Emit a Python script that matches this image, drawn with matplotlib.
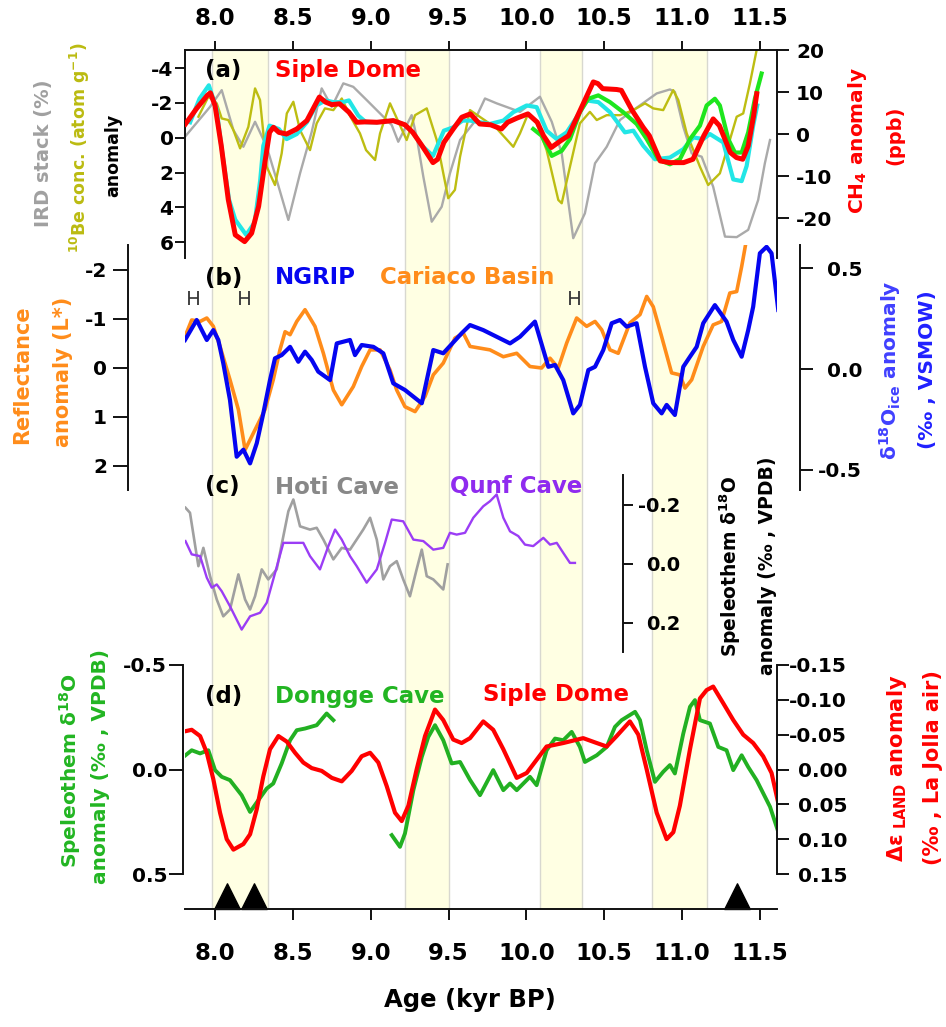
import numpy as np
import matplotlib
matplotlib.use("Agg")
import matplotlib.pyplot as plt
from matplotlib.path import Path
from matplotlib.markers import MarkerStyle

plt.rcParams["font.family"] = ["DejaVu Sans"]
plt.rcParams["font.weight"] = "bold"
plt.rcParams["axes.unicode_minus"] = False
plt.rcParams["mathtext.fontset"] = "dejavusans"
plt.rcParams["mathtext.default"] = "bf"

# ------------------------------------------------------------------ data
x_ticks = [8.0, 8.5, 9.0, 9.5, 10.0, 10.5, 11.0, 11.5]
band_start = [7.98, 9.22, 10.09, 10.81]
band_end = [8.34, 9.50, 10.36, 11.16]
event_ages = [8.08, 8.25, 11.35]
h_ages = [7.86, 8.19, 10.31]
h_halfwidth = [0.029, 0.029, 0.029]

a_left_ticks = [-4, -2, 0, 2, 4, 6]
a_right_ticks = [-20, -10, 0, 10, 20]
b_left_ticks = [-2, -1, 0, 1, 2]
b_right_ticks = [-0.5, 0.0, 0.5]
c_ticks = [-0.2, 0.0, 0.2]
d_left_ticks = [-0.5, 0.0, 0.5]
d_right_ticks = [-0.15, -0.10, -0.05, 0.00, 0.05, 0.10, 0.15]

# (a) Siple Dome CH4 anomaly (ppb)
siple_ch4_age = [7.81, 7.88, 7.95, 7.97, 8.00, 8.04, 8.085, 8.13, 8.19, 8.235, 8.28, 8.32, 8.35, 8.375,
                 8.41, 8.46, 8.525, 8.59, 8.63, 8.67, 8.71, 8.75, 8.80, 8.86, 8.91, 8.97, 9.04, 9.145,
                 9.22, 9.27, 9.33, 9.40, 9.43, 9.47, 9.53, 9.585, 9.64, 9.67, 9.70, 9.77, 9.84, 9.88,
                 9.94, 10.01, 10.07, 10.11, 10.16, 10.22, 10.27, 10.32, 10.38, 10.43, 10.46, 10.49,
                 10.58, 10.61, 10.68, 10.75, 10.79, 10.86, 10.92, 11.01, 11.07, 11.14, 11.20, 11.24,
                 11.31, 11.35, 11.39, 11.425, 11.46, 11.48]
siple_ch4 = [2.4, 6.0, 9.2, 9.8, 6.8, -2.8, -15.6, -24.0, -25.6, -23.6, -17.2, -6.8, 0.4, 1.6,
             0.4, 0.0, 1.2, 3.2, 6.0, 8.8, 7.6, 7.0, 7.2, 5.2, 2.8, 2.9, 2.8, 3.2,
             2.2, 0.4, -2.8, -6.8, -6.0, -2.0, 1.2, 4.0, 4.8, 3.6, 2.4, 2.2, 1.2, 2.8,
             3.8, 4.8, 2.8, -0.4, -3.2, -1.6, -0.4, 3.6, 8.4, 12.4, 12.0, 10.8,
             10.6, 10.4, 5.6, 1.6, -0.4, -6.4, -6.8, -6.8, -6.0, -0.4, 3.6, 2.0,
             -4.4, -5.6, -6.0, -2.8, 4.4, 9.6]

# (a) second CH4 record (cyan)
cyan_ch4_age = [7.84, 7.90, 7.96, 8.01, 8.04, 8.09, 8.13, 8.20, 8.255, 8.29, 8.31, 8.35, 8.41, 8.46,
                8.525, 8.59, 8.65, 8.71, 8.76, 8.82, 8.86, 8.92, 8.97, 9.04, 9.145, 9.22, 9.27,
                9.33, 9.40, 9.47, 9.53, 9.59, 9.638, 9.766, 9.852, 9.916, 10.002, 10.066, 10.13,
                10.195, 10.259, 10.323, 10.387, 10.462, 10.537, 10.633, 10.687, 10.751, 10.826,
                10.922, 11.008, 11.072, 11.136, 11.179, 11.265, 11.329, 11.383, 11.415, 11.457, 11.483]
cyan_ch4 = [2.8, 8.4, 11.6, 6.0, -2.8, -15.6, -20.4, -24.0, -21.0, -11.0, -2.8, 2.0, 1.2, -1.2,
            0.0, 2.8, 6.8, 8.0, 7.6, 7.6, 8.0, 4.4, 2.8, 2.8, 3.2, 2.2, 0.4,
            -2.8, -5.2, 0.8, 1.6, 3.2, 3.2, 2.4, 3.2, 5.2, 6.8, 6.4, 0.8,
            -1.2, 0.4, 4.0, 8.0, 7.6, 5.2, 0.4, 0.8, -2.8, -6.0,
            -5.6, -3.6, -0.8, -1.2, 0.0, -2.0, -10.8, -11.2, -7.6, 2.0, 6.8]

# (a) third CH4 record (green)
green_ch4_age = [10.044, 10.098, 10.163, 10.227, 10.28, 10.344, 10.398, 10.462, 10.537, 10.622,
                 10.708, 10.773, 10.847, 10.922, 10.986, 11.051, 11.115, 11.158, 11.211, 11.243,
                 11.297, 11.34, 11.383, 11.425, 11.468, 11.511]
green_ch4 = [1.2, -0.4, -5.2, -4.0, -1.2, 5.2, 8.4, 9.2, 7.6, 5.2,
             2.4, -1.2, -6.0, -7.2, -6.0, -1.2, 2.0, 6.8, 8.4, 6.8,
             -1.2, -4.4, -4.4, 0.4, 8.4, 14.4]

# (a) IRD stack anomaly (%)
ird_age = [7.807, 7.968, 8.043, 8.118, 8.182, 8.257, 8.332, 8.396, 8.471, 8.546, 8.621, 8.685,
           8.75, 8.824, 8.888, 8.974, 9.06, 9.135, 9.177, 9.263, 9.295, 9.338, 9.392, 9.456,
           9.509, 9.574, 9.659, 9.734, 9.809, 9.959, 10.087, 10.163, 10.227, 10.301, 10.376,
           10.441, 10.516, 10.601, 10.687, 10.762, 10.837, 10.922, 10.954, 11.008, 11.062,
           11.126, 11.2, 11.276, 11.351, 11.425, 11.489, 11.532, 11.565]
ird = [-0.06, -1.78, -2.74, -0.44, 0.52, -0.92, 0.52, 2.43, 4.73, 2.05, -0.34, -2.84,
       -1.78, -3.13, -2.93, -2.17, -1.40, -0.73, 0.23, -1.3, -0.06, 2.24, 4.83, 3.97,
       2.05, 0.13, -0.83, -2.26, -1.98, -1.49, -2.36, -0.92, 0.90, 5.78, 4.35,
       1.47, 0.52, -1.02, -1.59, -2.07, -2.55, -2.78, -2.64, -0.63, 0.9,
       1.09, 2.82, 5.69, 5.72, 5.30, 3.58, 1.47, 0.13]

# (a) 10Be concentration anomaly
be_age = [7.893, 7.957, 8.011, 8.043, 8.085, 8.118, 8.161, 8.214, 8.257, 8.289, 8.332, 8.385,
          8.428, 8.461, 8.503, 8.546, 8.61, 8.653, 8.706, 8.76, 8.814, 8.87, 8.931, 8.97,
          9.028, 9.06, 9.124, 9.231, 9.285, 9.36, 9.424, 9.498, 9.541, 9.574, 9.638, 9.809,
          9.916, 9.959, 10.012, 10.066, 10.13, 10.205, 10.227, 10.28, 10.344, 10.408, 10.452,
          10.516, 10.601, 10.687, 10.762, 10.815, 10.879, 10.943, 10.976, 11.03, 11.115,
          11.168, 11.243, 11.307, 11.351, 11.393, 11.436, 11.479, 11.513]
be = [-1.21, -2.36, -1.98, -1.11, -1.02, -0.44, 0.61, -0.63, -2.84, -2.17, 1.67, 2.72,
      0.90, -1.40, -2.07, -0.44, 0.71, -0.83, -1.69, -1.59, -2.26, -1.21, -0.25, 0.71,
      1.28, -0.25, -1.98, 0.13, -1.30, -1.69, 0.13, 3.48, 3.0, 1.09, -1.59, -0.54,
      0.52, -0.25, -1.40, -0.83, 0.71, 3.58, 3.77, 1.67, -0.83, -1.49, -1.02,
      -1.30, -1.30, -1.59, -1.98, -1.69, -1.59, -2.74, -2.17, -0.25, 1.67,
      2.72, 2.05, 0.13, -1.21, -1.40, -3.13, -5.04, -6.5]

# (b) Cariaco Basin reflectance anomaly (L*)
cariaco_age = [7.807, 7.85, 7.904, 7.947, 7.989, 8.032, 8.096, 8.15, 8.193, 8.268, 8.321, 8.374,
               8.417, 8.45, 8.482, 8.525, 8.578, 8.642, 8.696, 8.76, 8.814, 8.888, 8.942, 8.996,
               9.06, 9.124, 9.167, 9.22, 9.285, 9.349, 9.402, 9.466, 9.541, 9.595, 9.638, 9.766,
               9.852, 9.938, 10.023, 10.098, 10.152, 10.205, 10.259, 10.323, 10.387, 10.441,
               10.484, 10.537, 10.59, 10.665, 10.73, 10.773, 10.815, 10.869, 10.933, 10.986,
               11.019, 11.062, 11.136, 11.2, 11.254, 11.307, 11.351, 11.383, 11.41, 11.45]
cariaco = [-0.63, -0.97, -0.94, -1.01, -0.84, -0.43, 0.25, 0.86, 1.68, 1.20, 0.86, 0.25,
           -0.36, -0.73, -0.67, -0.94, -1.18, -0.84, -0.29, 0.46, 0.76, 0.39, -0.02, -0.36,
           -0.36, 0.05, 0.46, 0.80, 0.90, 0.59, 0.15, -0.09, -0.60, -0.70, -0.43, -0.36,
           -0.22, -0.29, -0.02, 0.01, -0.19, 0.01, -0.50, -1.01, -0.84, -0.94,
           -0.77, -0.36, -0.29, -0.91, -1.08, -1.45, -1.24, -0.63, 0.11, 0.15,
           0.42, 0.25, -0.43, -0.87, -0.94, -1.52, -1.55, -2.06, -2.54, -3.2]

# (b) NGRIP d18O ice anomaly (permil VSMOW)
ngrip_age = [7.807, 7.882, 7.947, 7.989, 8.021, 8.053, 8.096, 8.139, 8.182, 8.225, 8.268, 8.31,
             8.353, 8.385, 8.428, 8.482, 8.535, 8.578, 8.621, 8.663, 8.739, 8.782, 8.867, 8.899,
             8.942, 9.017, 9.081, 9.145, 9.22, 9.328, 9.402, 9.466, 9.584, 9.638, 9.723, 9.895,
             9.959, 10.055, 10.141, 10.184, 10.237, 10.301, 10.344, 10.398, 10.441, 10.494,
             10.548, 10.601, 10.644, 10.708, 10.762, 10.815, 10.869, 10.901, 10.954, 11.008,
             11.051, 11.094, 11.136, 11.211, 11.286, 11.329, 11.383, 11.425, 11.457, 11.5,
             11.543, 11.575, 11.618]
ngrip = [0.144, 0.243, 0.144, 0.193, 0.144, 0.028, -0.154, -0.435, -0.40, -0.468, -0.368, -0.22,
         -0.055, 0.053, 0.069, 0.11, 0.036, 0.086, 0.045, -0.013, -0.055, 0.127, 0.144, 0.069,
         0.119, 0.11, 0.078, -0.071, -0.104, -0.17, 0.094, 0.078, 0.177, 0.218, 0.193, 0.127,
         0.16, 0.235, 0.011, 0.02, -0.055, -0.22, -0.178, -0.005, 0.011, 0.094,
         0.227, 0.243, 0.21, 0.227, 0.011, -0.17, -0.22, -0.178, -0.228, 0.011,
         0.061, 0.11, 0.227, 0.317, 0.235, 0.144, 0.061, 0.193, 0.309, 0.574,
         0.606, 0.574, 0.293]

# (c) Hoti Cave speleothem d18O anomaly
hoti_age = [7.81, 7.839, 7.893, 7.925, 7.968, 8.011, 8.053, 8.096, 8.15, 8.193, 8.225, 8.257,
            8.3, 8.342, 8.396, 8.439, 8.471, 8.503, 8.546, 8.61, 8.653, 8.696, 8.76, 8.814,
            8.867, 8.952, 8.996, 9.039, 9.081, 9.124, 9.167, 9.209, 9.252, 9.295, 9.328, 9.36,
            9.402, 9.445, 9.466, 9.494]
hoti = [-0.189, -0.172, 0.009, -0.053, 0.043, 0.122, 0.179, 0.156, 0.037, 0.122, 0.156, 0.111,
        0.02, 0.054, 0.02, -0.093, -0.177, -0.217, -0.126, -0.115, -0.121, -0.081, -0.014, -0.053,
        -0.047, -0.115, -0.155, -0.081, 0.054, 0.009, -0.008, 0.054, 0.111, 0.02, -0.047, 0.043,
        0.054, 0.077, 0.088, 0.003]

# (c) Qunf Cave speleothem d18O anomaly
qunf_age = [7.81, 7.85, 7.904, 7.947, 7.979, 8.011, 8.043, 8.096, 8.171, 8.225, 8.289, 8.332,
            8.374, 8.439, 8.503, 8.567, 8.61, 8.674, 8.728, 8.771, 8.814, 8.867, 8.91, 8.974,
            9.039, 9.092, 9.135, 9.209, 9.274, 9.338, 9.402, 9.466, 9.509, 9.552, 9.606, 9.659,
            9.723, 9.766, 9.809, 9.852, 9.895, 9.948, 9.991, 10.044, 10.109, 10.152, 10.195,
            10.237, 10.28, 10.312]
qunf = [-0.076, -0.031, -0.025, 0.048, 0.082, 0.071, 0.094, 0.145, 0.224, 0.179, 0.167, 0.133,
        0.054, -0.07, -0.07, -0.07, -0.025, 0.02, -0.059, -0.115, -0.081, -0.025, 0.009, 0.065,
        0.02, -0.07, -0.149, -0.143, -0.081, -0.076, -0.047, -0.053, -0.104, -0.098, -0.104, -0.155,
        -0.194, -0.211, -0.234, -0.155, -0.109, -0.093, -0.064, -0.059, -0.087, -0.064, -0.07,
        -0.036, -0.002, -0.002]

# (d) Dongge Cave speleothem d18O anomaly (two segments, gap = nan)
dongge_age = [7.81, 7.85, 7.904, 7.957, 8.0, 8.043, 8.096, 8.171, 8.225, 8.278, 8.332, 8.374,
              8.428, 8.482, 8.525, 8.578, 8.653, 8.717, 8.76, 8.95,
              9.135, 9.188, 9.22, 9.274, 9.328, 9.37, 9.413, 9.466, 9.52, 9.574, 9.638, 9.702,
              9.787, 9.852, 9.895, 9.938, 10.023, 10.066, 10.13, 10.184, 10.237, 10.291, 10.344,
              10.376, 10.452, 10.516, 10.569, 10.612, 10.698, 10.73, 10.773, 10.826, 10.879,
              10.922, 10.954, 11.008, 11.051, 11.083, 11.115, 11.179, 11.233, 11.286, 11.329,
              11.383, 11.425, 11.479, 11.565, 11.618]
dongge = [-0.068, -0.092, -0.077, -0.092, 0.003, 0.035, 0.051, 0.123, 0.203, 0.147, 0.091, 0.067,
          -0.029, -0.14, -0.188, -0.196, -0.212, -0.268, -0.236, np.nan,
          0.314, 0.37, 0.306, 0.099, -0.06, -0.156, -0.212, -0.14, -0.029, -0.036, 0.05, 0.123,
          0.003, 0.099, 0.067, 0.099, 0.035, 0.075, -0.092, -0.148, -0.14, -0.18, -0.108,
          -0.036, -0.068, -0.108, -0.204, -0.236, -0.276, -0.236, -0.092, 0.059, 0.011,
          -0.021, 0.019, -0.172, -0.3, -0.332, -0.236, -0.22, -0.108, -0.092, 0.003,
          -0.068, -0.012, 0.051, 0.178, 0.298]

# (d) Siple Dome delta-epsilon LAND anomaly
siple_de_age = [7.81, 7.85, 7.904, 7.947, 7.989, 8.032, 8.075, 8.118, 8.182, 8.225, 8.268, 8.31,
                8.353, 8.407, 8.461, 8.514, 8.567, 8.621, 8.685, 8.75, 8.814, 8.878, 8.942, 8.996,
                9.049, 9.103, 9.156, 9.199, 9.242, 9.295, 9.349, 9.413, 9.466, 9.53, 9.584, 9.638,
                9.723, 9.787, 9.852, 9.938, 10.002, 10.066, 10.13, 10.237, 10.365, 10.452, 10.516,
                10.58, 10.665, 10.719, 10.773, 10.837, 10.901, 10.944, 10.986, 11.051, 11.115,
                11.158, 11.2, 11.265, 11.329, 11.393, 11.457, 11.521, 11.575, 11.618]
siple_de = [-0.055, -0.057, -0.048, -0.024, 0.014, 0.062, 0.1, 0.115, 0.107, 0.093, 0.057, 0.01,
            -0.029, -0.048, -0.04, -0.024, -0.01, -0.002, 0.002, 0.012, 0.017, 0.002, -0.019, -0.024,
            -0.01, 0.024, 0.062, 0.074, 0.052, 0.0, -0.048, -0.086, -0.071, -0.043, -0.038, -0.045,
            -0.069, -0.057, -0.029, 0.012, 0.005, -0.014, -0.033, -0.038, -0.045, -0.038, -0.033,
            -0.048, -0.069, -0.05, 0.0, 0.062, 0.1, 0.09, 0.052, -0.029, -0.102,
            -0.114, -0.119, -0.095, -0.071, -0.05, -0.038, -0.019, 0.005, 0.048]

# ------------------------------------------------------------------ layout
W, H = 946, 1027
PT = 72.0 / 100.0
fig = plt.figure(figsize=(W / 100, H / 100), dpi=100)
L, R = 185, 777
XL = (7.807, 11.61)
SPW = 1.4
INK = "#111111"
YFS = 14.5


def rect(x0, y0, x1, y1):
    return [x0 / W, 1 - y1 / H, (x1 - x0) / W, (y1 - y0) / H]


def ftext(x, y, s, **kw):
    fig.text(x / W, 1 - y / H, s, **kw)


def bare(ax):
    ax.set_xlim(*XL)
    ax.patch.set_visible(False)
    for s in ax.spines.values():
        s.set_visible(False)
    ax.tick_params(axis="both", which="both", bottom=False, top=False, left=False, right=False,
                   labelbottom=False, labeltop=False, labelleft=False, labelright=False)


def yaxis_setup(ax, side, ticks, fmt, lim, length_px, pad_px, ha=None, fs=YFS, pos=None):
    ax.set_ylim(*lim)
    sp = ax.spines[side]
    sp.set_visible(True)
    sp.set_linewidth(SPW)
    sp.set_color(INK)
    if pos is not None:
        sp.set_position(pos)
    if side == "left":
        ax.tick_params(axis="y", left=True, labelleft=True)
    else:
        ax.tick_params(axis="y", right=True, labelright=True)
    ax.set_yticks(ticks)
    ax.set_yticklabels([fmt % t for t in ticks], fontsize=fs, fontweight="bold")
    ax.tick_params(axis="y", direction="out", length=length_px * PT, width=SPW,
                   pad=pad_px * PT, color=INK)
    if ha:
        for lab in ax.get_yticklabels():
            lab.set_horizontalalignment(ha)


# background bands
bg = fig.add_axes(rect(L, 50, R, 909))
bare(bg)
bg.set_ylim(0, 1)
for s, e in zip(band_start, band_end):
    bg.axvspan(s, e, facecolor="#FFFFE3", edgecolor="#D8D8D0", lw=1.0)

# ---------------- panel (a)
axA = fig.add_axes(rect(L, 50, R, 258))
bare(axA)
yaxis_setup(axA, "left", a_left_ticks, "%d", (6.92, -5.05), 10, 1.5)
axA.spines["top"].set_visible(True)
axA.spines["top"].set_linewidth(SPW)
axA.spines["top"].set_color(INK)
axA.set_xticks(x_ticks)
axA.set_xticklabels(["%.1f" % t for t in x_ticks], fontsize=16.5, fontweight="bold")
axA.tick_params(axis="x", top=True, labeltop=True, direction="out", length=9 * PT,
                width=SPW, pad=11 * PT, color=INK)
axA.plot(ird_age, ird, color="#AAAAAA", lw=1.7)
axA.plot(be_age, be, color="#BDBD12", lw=1.7)

axA2 = axA.twinx()
bare(axA2)
yaxis_setup(axA2, "right", a_right_ticks, "%d", (-29.5, 20), 12, 7)
axA2.plot(cyan_ch4_age, cyan_ch4, color="#22E6E6", lw=3.0)
axA2.plot(green_ch4_age, green_ch4, color="#1EE61E", lw=3.0)
axA2.plot(siple_ch4_age, siple_ch4, color="#FF0000", lw=3.6)

# ---------------- panel (b)
axB = fig.add_axes(rect(L, 245, R, 490))
bare(axB)
yaxis_setup(axB, "left", b_left_ticks, "%d", (2.5, -2.5), 15, 6, pos=("outward", 57 * PT))
axB.plot(cariaco_age, cariaco, color="#FF8C1A", lw=2.6)
axB.errorbar(h_ages, [-1.42] * len(h_ages), xerr=h_halfwidth, fmt="none", ecolor="#333333",
             elinewidth=1.2, capsize=5.0, capthick=1.3)

axB2 = axB.twinx()
bare(axB2)
yaxis_setup(axB2, "right", b_right_ticks, "%.1f", (-0.6, 0.615), 13, 49, ha="right",
            pos=("outward", 23 * PT))
axB2.plot(ngrip_age, ngrip, color="#0505F0", lw=3.0)

# ---------------- panel (c)
axC = fig.add_axes(rect(L, 475, R, 652))
bare(axC)
yaxis_setup(axC, "right", c_ticks, "%.1f", (0.3, -0.3), 10, 47, ha="right", fs=14,
            pos=("axes", (623 - L) / (R - L)))
axC.plot(hoti_age, hoti, color="#A0A0A0", lw=1.9)
axC.plot(qunf_age, qunf, color="#9B3DF5", lw=1.7)

# ---------------- panel (d)
axD = fig.add_axes(rect(L, 665, R, 874))
bare(axD)
yaxis_setup(axD, "left", d_left_ticks, "%.1f", (0.5, -0.5), 14, 2, pos=("outward", 2 * PT))
axD.plot(dongge_age, dongge, color="#22B022", lw=2.8)

axD2 = axD.twinx()
bare(axD2)
yaxis_setup(axD2, "right", d_right_ticks, "%.2f", (0.15, -0.15), 12, 58, ha="right")
axD2.plot(siple_de_age, siple_de, color="#FF0000", lw=3.0)

# ---------------- bottom age axis with event triangles
axX = fig.add_axes(rect(L, 860, R, 909))
bare(axX)
axX.set_ylim(0, 1)
axX.spines["bottom"].set_visible(True)
axX.spines["bottom"].set_linewidth(SPW)
axX.spines["bottom"].set_color(INK)
axX.set_xticks(x_ticks)
axX.set_xticklabels(["%.1f" % t for t in x_ticks], fontsize=16.5, fontweight="bold")
axX.tick_params(axis="x", bottom=True, labelbottom=True, direction="out", length=11 * PT,
                width=SPW, pad=22 * PT, color=INK)
tri = MarkerStyle(Path([(-0.5, 0), (0.5, 0), (0, 1), (-0.5, 0)], [1, 2, 2, 79]))
axX.plot(event_ages, np.zeros(len(event_ages)), linestyle="none", marker=tri, markersize=37,
         color="black", clip_on=False)

# ---------------- texts
PFS = 16.5
ftext(205, 71, "(a)", fontsize=PFS, color="black", va="center", ha="left")
ftext(275, 70, "Siple Dome", fontsize=PFS, color="#FF0000", va="center", ha="left")
ftext(205, 278, "(b)", fontsize=PFS, color="black", va="center", ha="left")
ftext(275, 278, "NGRIP", fontsize=PFS, color="#0505F0", va="center", ha="left")
ftext(380, 278, "Cariaco Basin", fontsize=PFS, color="#FF8C1A", va="center", ha="left")
ftext(205, 487, "(c)", fontsize=PFS, color="black", va="center", ha="left")
ftext(275, 487, "Hoti Cave", fontsize=PFS, color="#888888", va="center", ha="left")
ftext(450, 487, "Qunf Cave", fontsize=PFS, color="#8F2BEF", va="center", ha="left")
ftext(205, 697, "(d)", fontsize=PFS, color="black", va="center", ha="left")
ftext(275, 697, "Dongge Cave", fontsize=PFS, color="#22B522", va="center", ha="left")
ftext(483, 695, "Siple Dome", fontsize=PFS, color="#FF0000", va="center", ha="left")

rot = dict(rotation=90, ha="center", va="center")
ftext(43, 153, "IRD stack (%)", fontsize=14, color="#A0A0A0", **rot)
ftext(80, 148, r"$^{10}$Be conc. (atom g$^{-1}$)", fontsize=12.5, color="#BBBB11", **rot)
ftext(113, 155, "anomaly", fontsize=12.5, color="black", **rot)
ftext(857, 140, r"CH$_4$ anomaly", fontsize=14.5, color="#FF0000", **rot)
ftext(895, 135, "(ppb)", fontsize=14, color="#FF0000", **rot)
ftext(22, 375, "Reflectance", fontsize=15, color="#FF8C1A", **rot)
ftext(63, 372, "anomaly (L*)", fontsize=15, color="#FF8C1A", **rot)
ftext(890, 370, r"$\mathrm{\delta}^{18}$O$_{ice}$ anomaly", fontsize=14.5, color="#4040FF", **rot)
ftext(927, 370, "(‰ , VSMOW)", fontsize=14.5, color="#2020FF", **rot)
ftext(730, 566, r"Speleothem $\mathrm{\delta}^{18}$O", fontsize=13.5, color="black", **rot)
ftext(767, 566, "anomaly (‰ , VPDB)", fontsize=13.5, color="black", **rot)
ftext(70, 771, r"Speleothem $\mathrm{\delta}^{18}$O", fontsize=14.5, color="#22B522", **rot)
ftext(100, 767, "anomaly (‰ , VPDB)", fontsize=14.5, color="#22B522", **rot)
ftext(897, 768, r"$\mathrm{\Delta\varepsilon}_{\ LAND}$ anomaly", fontsize=15, color="#FF0000", **rot)
ftext(933, 768, "(‰ , La Jolla air)", fontsize=15, color="#FF0000", **rot)

ftext(470, 1000, "Age (kyr BP)", fontsize=17.5, color="black", ha="center", va="center")

fig.savefig("out.png", dpi=100)
